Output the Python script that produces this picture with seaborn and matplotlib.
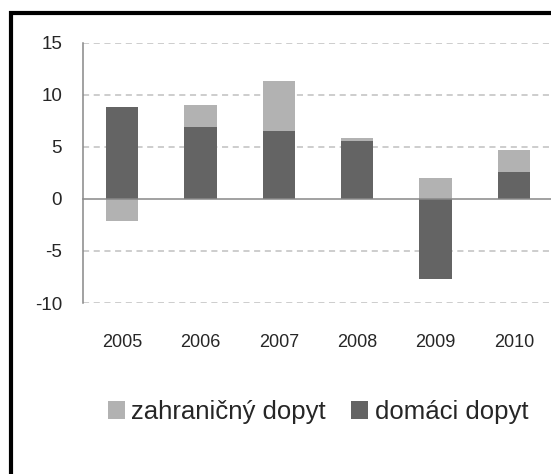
import numpy as np
import pandas as pd
import matplotlib
matplotlib.use("Agg")
import matplotlib.pyplot as plt
from matplotlib.patches import Patch, Rectangle
from matplotlib.ticker import FixedLocator
import seaborn as sns

years = ["2005", "2006", "2007", "2008", "2009", "2010"]
domestic = [8.8, 6.9, 6.5, 5.6, -7.7, 2.6]   # domáci dopyt
foreign = [-2.1, 2.1, 4.8, 0.2, 2.0, 2.1]    # zahraničný dopyt
yticks = [-10, -5, 0, 5, 10, 15]

sns.set_style("white")
plt.rcParams["font.family"] = ["Liberation Sans", "DejaVu Sans"]
plt.rcParams["axes.unicode_minus"] = False

dark = "#646464"
light = "#b2b2b2"
axis_col = "#888888"

df = pd.DataFrame({"year": years, "domestic": domestic, "foreign": foreign})
# foreign part sits on top of domestic when both have the same sign (Excel stacking)
same = np.sign(df["domestic"]) == np.sign(df["foreign"])
df["foreign_top"] = np.where(same, df["domestic"] + df["foreign"], df["foreign"])

fig = plt.figure(figsize=(5.51, 4.74), dpi=100)
ax = fig.add_axes([83 / 551, 1 - 303 / 474, 470 / 551, 260.3 / 474])

sns.barplot(data=df, x="year", y="foreign_top", color=light, saturation=1,
            width=0.41, errorbar=None, linewidth=0, ax=ax)
sns.barplot(data=df, x="year", y="domestic", color=dark, saturation=1,
            width=0.41, errorbar=None, linewidth=0, ax=ax)

ax.set_ylim(-10, 15)
ax.set_xlim(-0.5, len(years) - 0.5)
ax.set_yticks(yticks)
ax.set_xlabel("")
ax.set_ylabel("")

for y in yticks:
    if y != 0:
        ax.axhline(y, color="#c0c0c0", lw=1.1, ls=(0, (4, 3)), zorder=0)

for s in ["top", "right"]:
    ax.spines[s].set_visible(False)
ax.spines["left"].set_color(axis_col)
ax.spines["left"].set_linewidth(1.1)
ax.spines["bottom"].set_position(("data", 0))
ax.spines["bottom"].set_color(axis_col)
ax.spines["bottom"].set_linewidth(1.1)

ax.xaxis.set_minor_locator(FixedLocator(np.arange(len(years) + 1) - 0.5))
ax.tick_params(axis="x", which="major", length=0, pad=97, labelsize=13)
ax.tick_params(axis="x", which="minor", length=4.5, width=1, color=axis_col, direction="out")
ax.tick_params(axis="y", length=4, width=1, color=axis_col, direction="out",
               pad=11, labelsize=13.5)
ax.set_axisbelow(True)

handles = [Patch(facecolor=light, edgecolor="none", label="zahraničný dopyt"),
           Patch(facecolor=dark, edgecolor="none", label="domáci dopyt")]
fig.legend(handles=handles, loc="center", bbox_to_anchor=(318 / 551, 1 - 412 / 474),
           ncol=2, frameon=False, fontsize=18.5, handlelength=0.66, handleheight=0.74,
           handletextpad=0.25, columnspacing=1.0)

# black frame of the original picture (cut on the right and bottom)
fig.patches.append(Rectangle((11 / 551, -0.2), 1.2, 1.2 - 12.5 / 474,
                             transform=fig.transFigure, fill=False, lw=3,
                             edgecolor="black", clip_on=False))

fig.savefig("out.png", dpi=100)
